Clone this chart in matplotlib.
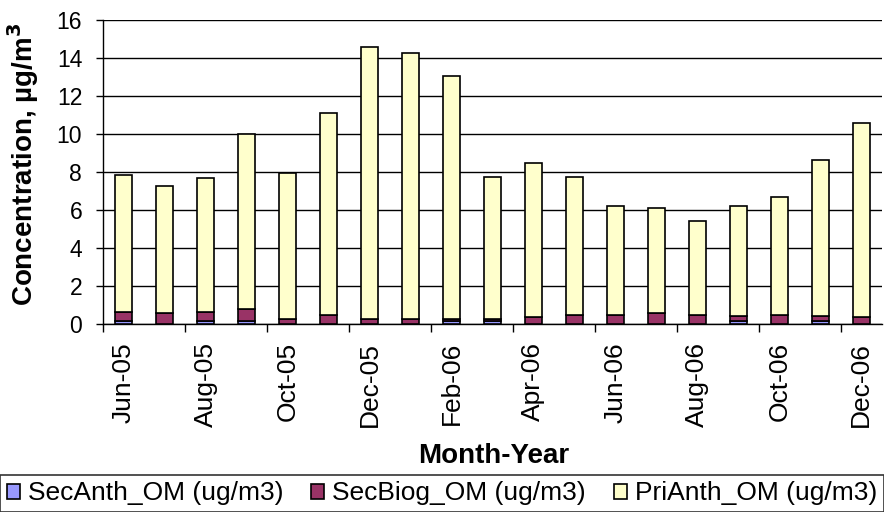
import matplotlib.pyplot as plt
import numpy as np

plt.rcParams['font.family'] = ['Liberation Sans', 'DejaVu Sans']

months = ["Jun-05", "Jul-05", "Aug-05", "Sep-05", "Oct-05", "Nov-05", "Dec-05",
          "Jan-06", "Feb-06", "Mar-06", "Apr-06", "May-06", "Jun-06", "Jul-06",
          "Aug-06", "Sep-06", "Oct-06", "Nov-06", "Dec-06"]
sec_anth = [0.15, 0.03, 0.15, 0.15, 0.03, 0.03, 0.03, 0.03, 0.15, 0.15,
            0.03, 0.03, 0.03, 0.03, 0.03, 0.15, 0.03, 0.15, 0.03]
sec_biog = [0.50, 0.53, 0.50, 0.62, 0.25, 0.47, 0.25, 0.25, 0.13, 0.13,
            0.35, 0.45, 0.45, 0.53, 0.45, 0.30, 0.45, 0.30, 0.35]
pri_anth = [7.20, 6.69, 7.05, 9.23, 7.67, 10.60, 14.32, 13.97, 12.77, 7.47,
            8.07, 7.27, 5.72, 5.54, 4.92, 5.75, 6.22, 8.20, 10.22]

x = np.arange(len(months))
w = 0.41

fig = plt.figure(figsize=(8.84, 5.12), dpi=100)
ax = fig.add_axes([0.1165, 0.367, 0.881, 0.594])

b1 = ax.bar(x, sec_anth, w, color="#9999FF", edgecolor="black", linewidth=1.2,
            label="SecAnth_OM (ug/m3)", zorder=3)
b2 = ax.bar(x, sec_biog, w, bottom=sec_anth, color="#993366", edgecolor="black",
            linewidth=1.2, label="SecBiog_OM (ug/m3)", zorder=3)
bottom2 = np.array(sec_anth) + np.array(sec_biog)
b3 = ax.bar(x, pri_anth, w, bottom=bottom2, color="#FFFFCC", edgecolor="black",
            linewidth=1.2, label="PriAnth_OM (ug/m3)", zorder=3)

ax.set_xlim(-0.5, len(months) - 0.5)
ax.set_ylim(0, 16)
ax.set_yticks(range(0, 17, 2))
ax.yaxis.grid(True, color="black", linewidth=1)
ax.set_axisbelow(True)

# labels every other month, tick marks between category pairs
ax.set_xticks(x[::2])
ax.set_xticklabels(months[::2], rotation=90)
ax.set_xticks(np.arange(-0.5, len(months), 2), minor=True)
ax.tick_params(axis="x", which="major", length=0, pad=13, labelsize=19)
ax.tick_params(axis="x", which="minor", length=6, width=1, color="black")
ax.tick_params(axis="y", length=5, width=1, pad=10, labelsize=16.5)

for s in ["top", "right"]:
    ax.spines[s].set_visible(False)
ax.spines["left"].set_linewidth(1)
ax.spines["bottom"].set_linewidth(1)

ax.set_ylabel(r"Concentration, µg/m$^{\mathbf{3}}$", fontsize=20, fontweight="bold")
ax.yaxis.set_label_coords(-0.079, 0.525)
ax.set_xlabel("Month-Year", fontsize=20, fontweight="bold")
ax.xaxis.set_label_coords(0.502, -0.39)

leg = fig.legend(handles=[b1, b2, b3], loc="lower left", ncol=3,
                 bbox_to_anchor=(0.0, 0.0, 1.0, 0.072), mode="expand",
                 borderaxespad=0, fontsize=19, frameon=True, fancybox=False,
                 edgecolor="black", handlelength=0.5, handleheight=0.5,
                 handletextpad=0.3, columnspacing=0.5, borderpad=0.25)
leg.get_frame().set_linewidth(1.2)

fig.savefig("out.png", dpi=100)
